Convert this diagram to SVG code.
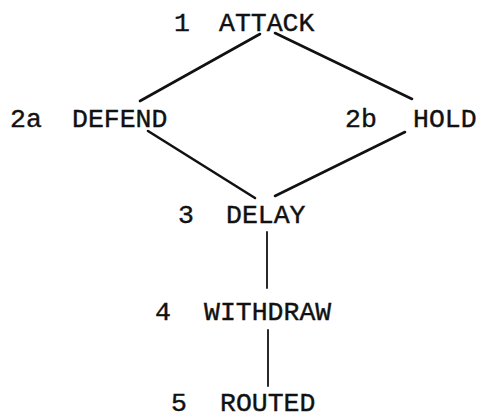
<svg xmlns="http://www.w3.org/2000/svg" width="479" height="418" viewBox="0 0 479 418">
<style>
text{font-family:"Liberation Mono","DejaVu Sans Mono",monospace;font-size:26.5px;fill:#111;stroke:#111;stroke-width:0.4}
.c line{stroke:#111;stroke-width:2.6;stroke-linecap:round}
.c line.v{stroke-width:1.8}
</style>
<rect width="479" height="418" fill="#fff"/>
<g class="c" id="connectors">
<line x1="260" y1="34" x2="140" y2="101"/>
<line x1="275" y1="33" x2="412" y2="99"/>
<line x1="148" y1="131" x2="255" y2="198"/>
<line x1="405" y1="132" x2="275" y2="196"/>
<line class="v" x1="267" y1="232" x2="267" y2="288"/>
<line class="v" x1="268" y1="330" x2="268" y2="386"/>
</g>
<g id="n1"><text x="174" y="31">1</text><text x="219" y="31">ATTACK</text></g>
<g id="n2a"><text x="10" y="127">2a</text><text x="72" y="127">DEFEND</text></g>
<g id="n2b"><text x="345" y="127">2b</text><text x="413" y="127">HOLD</text></g>
<g id="n3"><text x="178" y="223">3</text><text x="226" y="223">DELAY</text></g>
<g id="n4"><text x="155" y="320">4</text><text x="204" y="320">WITHDRAW</text></g>
<g id="n5"><text x="171" y="411">5</text><text x="220" y="411">ROUTED</text></g>
</svg>
